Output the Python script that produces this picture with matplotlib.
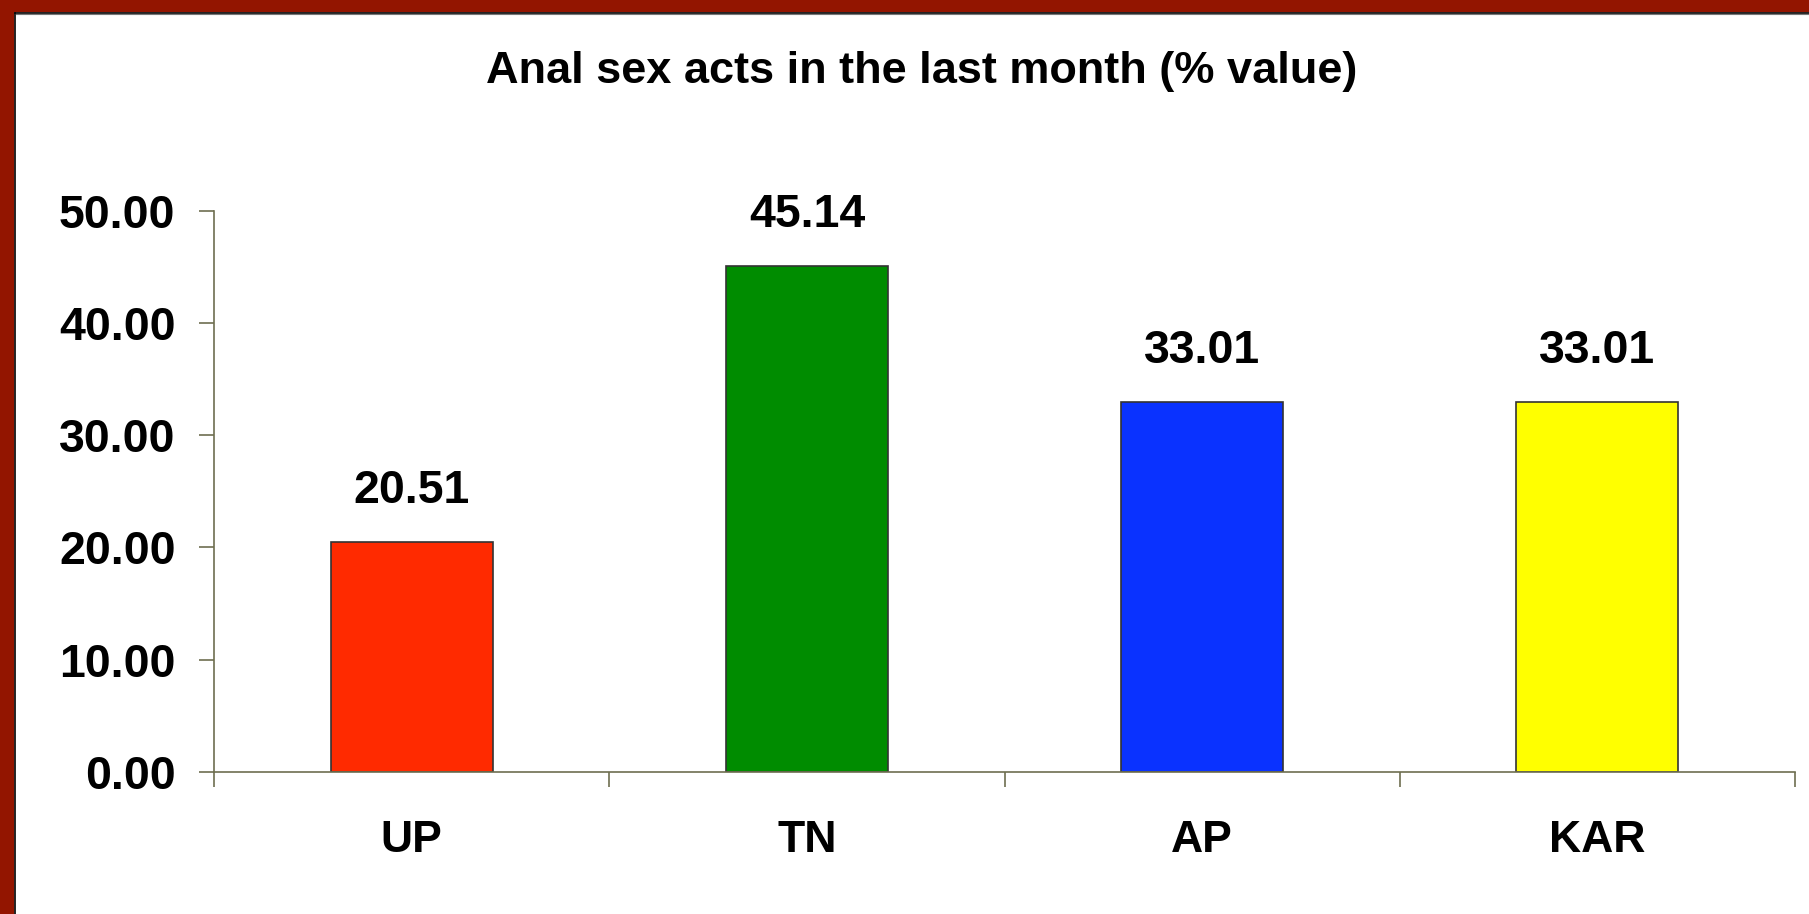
import matplotlib
matplotlib.use('Agg')
import matplotlib.pyplot as plt
from matplotlib.patches import Rectangle
from matplotlib.lines import Line2D

# data
states = ['UP', 'TN', 'AP', 'KAR']
values = [20.51, 45.14, 33.01, 33.01]
bar_colors = ['#FF2A00', '#008C00', '#0A32FF', '#FFFF00']
yticks = [0, 10, 20, 30, 40, 50]

plt.rcParams['font.family'] = ['Liberation Sans', 'DejaVu Sans']
plt.rcParams['font.weight'] = 'bold'

W, H = 1809, 914
fig = plt.figure(figsize=(W / 100, H / 100), dpi=100)
fig.patch.set_facecolor('white')

# slide frame: red band left and top, thin dark line inside
fig.patches.append(Rectangle((0, 0), 13 / W, 1, transform=fig.transFigure, color='#931500', zorder=0))
fig.patches.append(Rectangle((0, 1 - 11 / H), 1, 11 / H, transform=fig.transFigure, color='#931500', zorder=0))
fig.lines.append(Line2D([15.3 / W, 15.3 / W], [0, 1 - 12.5 / H], transform=fig.transFigure, color='black', lw=1.2))
fig.lines.append(Line2D([15.3 / W, 1], [1 - 12.5 / H, 1 - 12.5 / H], transform=fig.transFigure, color='black', lw=1.2))
fig.lines.append(Line2D([16 / W, 1], [1 - 13.8 / H, 1 - 13.8 / H], transform=fig.transFigure, color='#777777', lw=0.8))

ax = fig.add_axes([214 / W, (H - 771.7) / H, (1795 - 214) / W, (771.7 - 211) / H])
x = list(range(len(states)))
bars = ax.bar(x, values, width=0.41, color=bar_colors, edgecolor='#333333', linewidth=1.2, zorder=2)

for xi, v in zip(x, values):
    ax.annotate(f'{v:.2f}', (xi, v), xytext=(0, 36.5), textcoords='offset points',
                ha='center', va='center', fontsize=33.5, fontweight='bold')

ax.set_xlim(-0.5, len(states) - 0.5)
ax.set_ylim(0, 50)
ax.set_yticks(yticks)
ax.set_yticklabels([f'{t:.2f}' for t in yticks], fontsize=33.5, fontweight='bold')
ax.set_xticks(x)
ax.set_xticklabels(states, fontsize=32, fontweight='bold')
ax.set_xticks([i - 0.5 for i in range(len(states) + 1)], minor=True)

axis_col = '#6e6e50'
for s in ['top', 'right']:
    ax.spines[s].set_visible(False)
for s in ['left', 'bottom']:
    ax.spines[s].set_color(axis_col)
    ax.spines[s].set_linewidth(1.2)
ax.tick_params(axis='y', direction='out', length=10.8, width=1.2, color=axis_col, pad=17)
ax.tick_params(axis='x', which='major', length=0, pad=35)
ax.tick_params(axis='x', which='minor', direction='out', length=10.8, width=1.2, color=axis_col)

fig.text(922 / W, 1 - 71 / H, 'Anal sex acts in the last month (% value)',
         ha='center', va='center', fontsize=32.5, fontweight='bold')

fig.savefig('out.png', dpi=100)
